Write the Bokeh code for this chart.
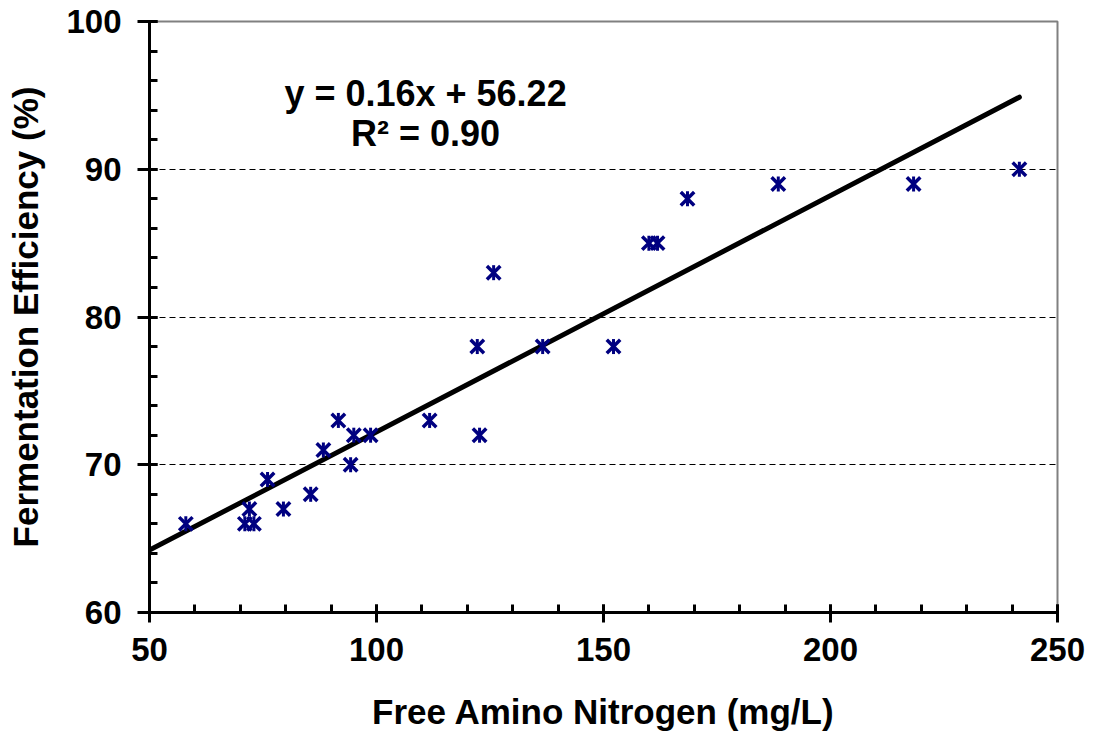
import numpy as np
from bokeh.plotting import figure
from bokeh.models import Range1d, FixedTicker, Label
from bokeh.embed import file_html
from bokeh.resources import INLINE

# Data
fan = [58, 71, 72, 73, 76, 79.5, 85.5, 88.3, 91.6, 94.3, 95, 98.7, 111.7,
       122.2, 122.7, 125.8, 136.6, 152.2, 160, 161.9, 168.5, 188.5, 218.3, 241.6]
eff = [66, 66, 67, 66, 69, 67, 68, 71, 73, 70, 72, 72, 73,
       78, 72, 83, 78, 78, 85, 85, 88, 89, 89, 90]
slope = 0.16
intercept = 56.22
fit_x = [50, 241.6]
fit_y = [slope * v + intercept for v in fit_x]
x_ticks = [50, 100, 150, 200, 250]
y_ticks = [60, 70, 80, 90, 100]
grid_levels = [70, 80, 90, 100]
x_title = "Free Amino Nitrogen (mg/L)"
y_title = "Fermentation Efficiency (%)"
eq_text = "y = 0.16x + 56.22"
r2_text = "R² = 0.90"

FONT = "Liberation Sans"

p = figure(width=1098, height=742, output_backend="svg", toolbar_location=None,
           x_range=Range1d(50, 250), y_range=Range1d(60, 100),
           min_border_left=149, min_border_right=41, min_border_top=21,
           min_border_bottom=130)
p.background_fill_color = "white"
p.border_fill_color = "white"
p.outline_line_color = "#808080"
p.outline_line_width = 2

# grid
p.xgrid.visible = False
p.ygrid.ticker = FixedTicker(ticks=grid_levels)
p.ygrid.grid_line_color = "black"
p.ygrid.grid_line_dash = "6 4"
p.ygrid.grid_line_width = 1

# axes
p.xaxis.ticker = FixedTicker(ticks=x_ticks, minor_ticks=list(range(50, 251, 10)))
p.yaxis.ticker = FixedTicker(ticks=y_ticks, minor_ticks=list(range(60, 101, 2)))
for ax in (p.xaxis, p.yaxis):
    ax.axis_line_color = "black"
    ax.axis_line_width = 3
    ax.major_tick_line_color = "black"
    ax.major_tick_line_width = 3
    ax.minor_tick_line_color = "black"
    ax.minor_tick_line_width = 3
    ax.major_tick_in = 8
    ax.minor_tick_in = 8
    ax.minor_tick_out = 0
    ax.major_label_text_font = FONT
    ax.major_label_text_font_style = "bold"
    ax.major_label_text_font_size = "33px"
    ax.major_label_text_color = "black"
    ax.axis_label_text_font = FONT
    ax.axis_label_text_font_style = "bold"
    ax.axis_label_text_font_size = "35px"
    ax.axis_label_text_color = "black"
p.xaxis.major_tick_out = 10
p.yaxis.major_tick_out = 12
p.xaxis.major_label_standoff = 15
p.yaxis.major_label_standoff = 16
p.xaxis.axis_label = x_title
p.yaxis.axis_label = y_title
p.xaxis.axis_label_standoff = 28
p.yaxis.axis_label_standoff = 18

# trend line
p.line(fit_x, fit_y, line_color="black", line_width=5, line_cap="round")

# markers (star: x plus vertical bar)
p.scatter(fan, eff, marker="x", size=19, line_color="#000080", line_width=3.5)
p.scatter(fan, eff, marker="dash", size=15, angle=np.pi / 2,
          line_color="#000080", line_width=3)

# equation text
p.add_layout(Label(x=110.8, y=95.1, text=eq_text, text_align="center",
                   text_baseline="middle", text_font=FONT, text_font_style="bold",
                   text_font_size="36px", text_color="black"))
p.add_layout(Label(x=110.8, y=92.4, text=r2_text, text_align="center",
                   text_baseline="middle", text_font=FONT, text_font_style="bold",
                   text_font_size="36px", text_color="black"))

open("out.html", "w").write(file_html(p, INLINE))
